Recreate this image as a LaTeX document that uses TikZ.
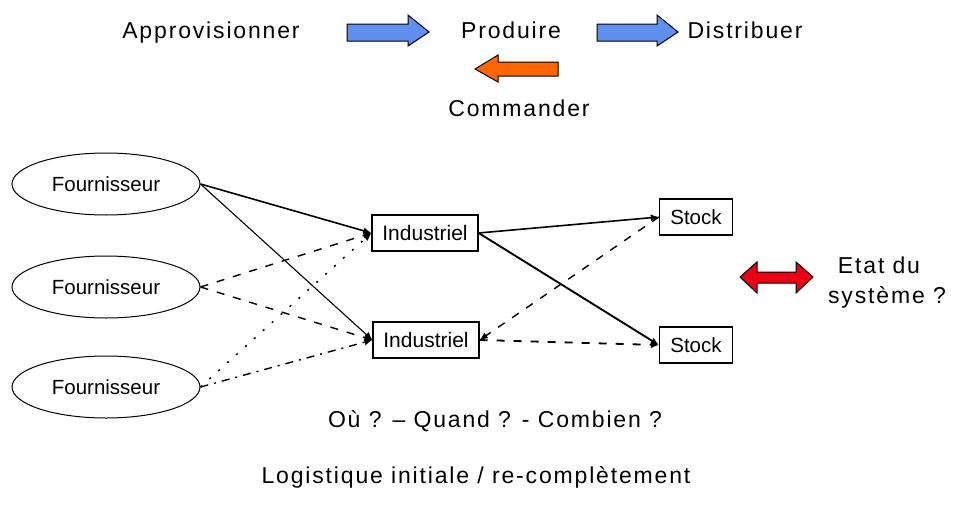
\documentclass[tikz,border=0pt]{standalone}
\usepackage{fontspec}
\setmainfont{Liberation Sans}
\newfontfamily\widefont[LetterSpace=8]{Liberation Sans}
\usetikzlibrary{shapes.geometric,arrows.meta}
\definecolor{flowblue}{RGB}{95,143,239}
\definecolor{floworange}{RGB}{255,102,0}
\definecolor{statered}{RGB}{235,0,20}
\tikzset{
  bigtext/.style={font=\widefont\fontsize{23}{27}\selectfont, anchor=base, inner sep=0pt},
  supplier/.style={ellipse, draw, line width=1pt, minimum width=188pt, minimum height=62pt, inner sep=0pt, font=\fontsize{20.5}{24}\selectfont},
  plant/.style={draw, line width=1.3pt, minimum width=106pt, minimum height=36pt, inner sep=0pt, font=\fontsize{21}{24}\selectfont},
  stockbox/.style={draw, line width=1.3pt, minimum width=73pt, minimum height=36pt, inner sep=0pt, font=\fontsize{20.5}{24}\selectfont},
  tip/.style={-{Latex[length=8pt,width=7pt]}},
  link/.style={tip, line width=1.6pt},
  thinlink/.style={tip, line width=1.1pt},
  dashlink/.style={tip, line width=1.4pt, dash pattern=on 8pt off 9pt},
  dotlink/.style={tip, line width=1.5pt, dash pattern=on 2pt off 10pt},
  dashdotlink/.style={tip, line width=1.4pt, dash pattern=on 8pt off 6pt on 2pt off 6pt},
  fatarrow/.style={line width=1pt, draw=black}
}
\begin{document}
\begin{tikzpicture}[x=1pt,y=-1pt]
\useasboundingbox (0,0) rectangle (955,506);

% process chain along the top
\node[bigtext] (appro) at (211,38) {Approvisionner};
\node[bigtext] (prod) at (511,38) {Produire};
\node[bigtext] (distr) at (745,38) {Distribuer};
\node[bigtext] (cmd) at (519,116) {Commander};

% block arrows between the steps
\filldraw[fill=flowblue, fatarrow] (347,24) -- (408,24) -- (408,15) -- (429,32) -- (408,46) -- (408,41) -- (347,41) -- cycle;
\filldraw[fill=flowblue, fatarrow] (597,24) -- (657,24) -- (657,15) -- (678,32) -- (657,46) -- (657,41) -- (597,41) -- cycle;
\filldraw[fill=floworange, fatarrow] (558,62) -- (498,62) -- (498,55) -- (475,69) -- (498,82) -- (498,76) -- (558,76) -- cycle;

% suppliers, plants and stocks
\node[supplier] (f1) at (106,184) {Fournisseur};
\node[supplier] (f2) at (106,287) {Fournisseur};
\node[supplier] (f3) at (106,387) {Fournisseur};
\node[plant] (i1) at (425,233) {Industriel};
\node[plant] (i2) at (426,340) {Industriel};
\node[stockbox] (s1) at (696,217) {Stock};
\node[stockbox] (s2) at (696,345) {Stock};

% supply links
\draw[link] (f1.east) -- (i1.west);
\draw[thinlink] (f1.east) -- (i2.west);
\draw[dashlink] (f2.east) -- (i1.west);
\draw[dashlink] (f2.east) -- (i2.west);
\draw[dotlink] (f3.east) -- (i1.west);
\draw[dashdotlink] (f3.east) -- (i2.west);

% distribution links
\draw[link] (i1.east) -- (s1.west);
\draw[link, line width=1.9pt] (i1.east) -- (s2.west);
\draw[dashlink] (s1.west) -- (i2.east);
\draw[dashlink, line width=1.8pt] (i2.east) -- (s2.west);

% system state
\filldraw[fill=statered, fatarrow] (740,277) -- (757,262) -- (757,272) -- (796,272) -- (796,262) -- (813,277) -- (796,293) -- (796,283) -- (757,283) -- (757,293) -- cycle;
\node[bigtext] (etat1) at (879,273) {Etat du};
\node[bigtext] (etat2) at (887,303) {système ?};

% questions
\node[bigtext] (q) at (495,427) {Où ? – Quand ? - Combien ?};
\node[bigtext] (logi) at (476,483) {Logistique initiale / re-complètement};
\end{tikzpicture}
\end{document}
